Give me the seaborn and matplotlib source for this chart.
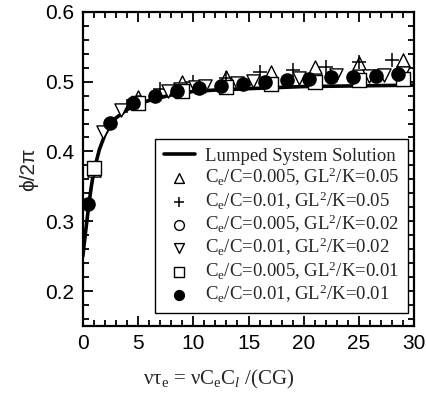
import matplotlib
matplotlib.use("Agg")
import matplotlib.pyplot as plt
import seaborn as sns
from matplotlib.ticker import MultipleLocator

# Lumped system solution
line_x = [0, 0.25, 0.5, 0.75, 1, 1.5, 2, 2.5, 3, 4, 5, 6, 8, 10, 12, 15, 20, 25, 30]
line_y = [0.25, 0.285, 0.318, 0.348, 0.372, 0.403, 0.424, 0.438, 0.448, 0.460,
          0.468, 0.473, 0.481, 0.486, 0.488, 0.490, 0.493, 0.494, 0.495]

# Ce/C=0.005, GL^2/K=0.05  (up triangles)
tri_up_x = [1, 5, 9, 13, 17, 21, 25, 29]
tri_up_y = [0.374, 0.478, 0.500, 0.507, 0.514, 0.521, 0.527, 0.531]

# Ce/C=0.01, GL^2/K=0.05  (plus)
plus_x = [1, 4, 7, 10, 13, 16, 19, 22, 25, 28]
plus_y = [0.372, 0.465, 0.489, 0.499, 0.505, 0.514, 0.517, 0.521, 0.528, 0.531]

# Ce/C=0.005, GL^2/K=0.02  (open circles, mostly hidden)
ocirc_x = [1, 5, 9, 13, 17, 21, 25, 29]
ocirc_y = [0.376, 0.471, 0.487, 0.493, 0.496, 0.500, 0.502, 0.504]

# Ce/C=0.01, GL^2/K=0.02  (down triangles)
tri_dn_x = [1.8, 3.5, 7.7, 8.8, 10.2, 11.1, 14.0, 15.4, 19.6, 22.9, 25.9, 27.3, 29.0]
tri_dn_y = [0.428, 0.460, 0.487, 0.489, 0.493, 0.494, 0.498, 0.501, 0.505,
            0.509, 0.508, 0.509, 0.512]

# Ce/C=0.005, GL^2/K=0.01  (squares)
sq_x = [1, 5, 9, 13, 17, 21, 25, 29]
sq_y = [0.376, 0.470, 0.487, 0.493, 0.496, 0.500, 0.502, 0.504]

# Ce/C=0.01, GL^2/K=0.01  (filled circles)
fcirc_x = [0.5, 2.5, 4.5, 6.5, 8.5, 10.5, 12.5, 14.5, 16.5, 18.5, 20.5, 22.5, 24.5, 26.5, 28.5]
fcirc_y = [0.325, 0.441, 0.469, 0.479, 0.487, 0.491, 0.494, 0.497, 0.500, 0.502,
           0.504, 0.506, 0.507, 0.508, 0.511]

labels = [
    "Lumped System Solution",
    r"C$_\mathrm{e}$/C=0.005, GL$^\mathrm{2}$/K=0.05",
    r"C$_\mathrm{e}$/C=0.01, GL$^\mathrm{2}$/K=0.05",
    r"C$_\mathrm{e}$/C=0.005, GL$^\mathrm{2}$/K=0.02",
    r"C$_\mathrm{e}$/C=0.01, GL$^\mathrm{2}$/K=0.02",
    r"C$_\mathrm{e}$/C=0.005, GL$^\mathrm{2}$/K=0.01",
    r"C$_\mathrm{e}$/C=0.01, GL$^\mathrm{2}$/K=0.01",
]


def main():
    sns.set_style("ticks")
    plt.rcParams['font.family'] = ['Liberation Sans', 'DejaVu Sans']
    plt.rcParams['mathtext.fontset'] = 'custom'
    plt.rcParams['mathtext.rm'] = 'Liberation Serif'
    plt.rcParams['mathtext.it'] = 'Liberation Serif:italic'

    fig = plt.figure(figsize=(4.27, 3.96), dpi=100)
    ax = fig.add_axes([0.194, 0.177, 0.776, 0.793])

    sns.lineplot(x=line_x, y=line_y, ax=ax, color="black", linewidth=2.6,
                 label=labels[0], zorder=2)

    ms = 90
    sns.scatterplot(x=tri_up_x, y=tri_up_y, ax=ax, marker="^", s=ms, facecolor="white",
                    edgecolor="black", linewidth=1.0, label=labels[1], zorder=3)
    sns.scatterplot(x=plus_x, y=plus_y, ax=ax, marker="+", s=ms, color="black",
                    linewidth=1.1, label=labels[2], zorder=4)
    sns.scatterplot(x=ocirc_x, y=ocirc_y, ax=ax, marker="o", s=ms, facecolor="white",
                    edgecolor="black", linewidth=1.0, label=labels[3], zorder=5)
    sns.scatterplot(x=tri_dn_x, y=tri_dn_y, ax=ax, marker="v", s=ms, facecolor="white",
                    edgecolor="black", linewidth=1.0, label=labels[4], zorder=6)
    sns.scatterplot(x=sq_x, y=sq_y, ax=ax, marker="s", s=ms, facecolor="white",
                    edgecolor="black", linewidth=1.0, label=labels[5], zorder=7)
    sns.scatterplot(x=fcirc_x, y=fcirc_y, ax=ax, marker="o", s=ms, color="black",
                    edgecolor="black", linewidth=1.0, label=labels[6], zorder=8)

    ax.set_xlim(0, 30)
    ax.set_ylim(0.15, 0.6)
    ax.xaxis.set_major_locator(MultipleLocator(5))
    ax.xaxis.set_minor_locator(MultipleLocator(1))
    ax.yaxis.set_major_locator(MultipleLocator(0.1))
    ax.yaxis.set_minor_locator(MultipleLocator(0.02))
    ax.tick_params(which="both", direction="in", top=True, right=True, width=1.3,
                   labelsize=15, colors="black")
    ax.tick_params(which="major", length=7, pad=6)
    ax.tick_params(which="minor", length=4)
    for sp in ax.spines.values():
        sp.set_linewidth(1.6)
        sp.set_color("black")

    ax.set_ylabel("ϕ/2π", fontsize=15, labelpad=5)
    ax.set_xlabel(r"ντ$_\mathrm{e}$ = νC$_\mathrm{e}$C$_{\mathit{l}}$ /(CG)",
                  fontsize=15, family="Liberation Serif")
    ax.xaxis.set_label_coords(0.41, -0.135)

    leg = ax.legend(loc="lower right", bbox_to_anchor=(0.98, 0.04), borderaxespad=0,
                    fancybox=False, framealpha=1, edgecolor="black", handlelength=1.7,
                    handletextpad=0.5, labelspacing=0.06, borderpad=0.45,
                    prop={"family": "Liberation Serif", "size": 13.5})
    leg.get_frame().set_linewidth(1.0)
    for h in leg.legend_handles[1:]:
        h.set_sizes([50])

    fig.savefig("out.png", dpi=100)
    plt.close(fig)


if __name__ == "__main__":
    main()
